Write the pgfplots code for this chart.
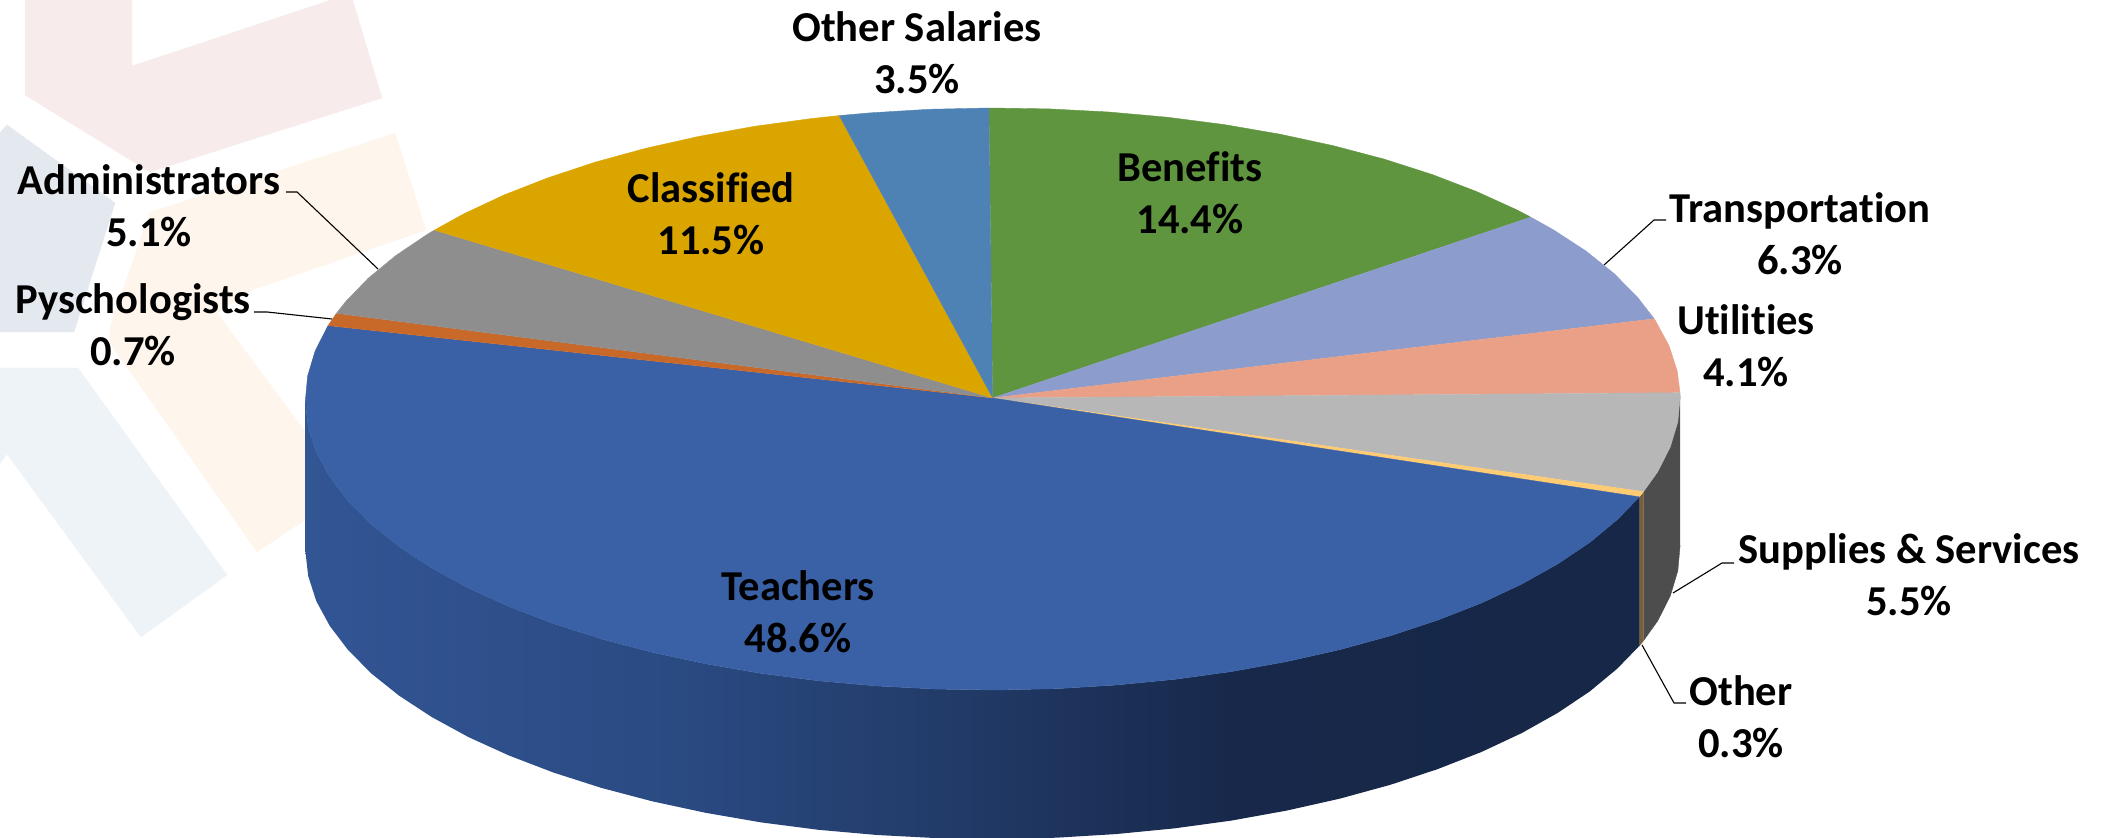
\documentclass[border=0pt]{standalone}
\usepackage{pgfplots}
\pgfplotsset{compat=1.18}
\usepackage{fontspec}
\setmainfont[Ligatures=CommonOff]{Carlito}
\definecolor{wmRed}{RGB}{247,235,235}
\definecolor{wmOrange}{RGB}{254,245,236}
\definecolor{wmGrey}{RGB}{228,233,239}
\definecolor{wmBlue}{RGB}{238,243,248}
\definecolor{cTeachers}{RGB}{58,96,165}
\definecolor{cBenefits}{RGB}{95,149,63}
\definecolor{cTransport}{RGB}{140,157,205}
\definecolor{cUtilities}{RGB}{233,160,134}
\definecolor{cSupplies}{RGB}{183,183,183}
\definecolor{cOther}{RGB}{255,203,115}
\definecolor{cPsych}{RGB}{200,105,42}
\definecolor{cAdmin}{RGB}{142,142,142}
\definecolor{cClassified}{RGB}{219,165,0}
\definecolor{cOtherSal}{RGB}{78,130,181}
\definecolor{sSupplies}{RGB}{77,77,77}
\definecolor{sOther}{RGB}{120,95,60}
\pgfdeclarehorizontalshading{sideblue}{100bp}{
  rgb(0bp)=(0.196,0.333,0.580);
  rgb(25bp)=(0.196,0.333,0.580);
  rgb(39bp)=(0.165,0.290,0.510);
  rgb(50bp)=(0.130,0.225,0.400);
  rgb(60bp)=(0.090,0.157,0.290);
  rgb(75bp)=(0.086,0.153,0.280);
  rgb(100bp)=(0.086,0.153,0.280)}
\pgfplotsset{w/.style={draw=#1,fill=#1,line width=0.2pt,no marks,line join=round,forget plot},
  lead/.style={draw=black,line width=0.55pt,no marks,forget plot}}
\newcommand{\lab}[3]{\node[align=center,font=\fontsize{21.3}{26.2}\selectfont\bfseries,inner sep=0pt] at (axis cs:#1,#2) {#3};}
\begin{document}
\begin{tikzpicture}
\useasboundingbox (0,0) rectangle (1054pt,419pt);
\begin{axis}[hide axis,scale only axis,width=1054pt,height=419pt,
  xmin=0,xmax=2108,ymin=0,ymax=838,y dir=reverse]
% watermark
\addplot[w=wmRed] coordinates {(25,-2)(132,-2)(132,66)(337,-2)(352,-2)(382,98)(150,172)(25,95)};
\addplot[w=wmOrange] coordinates {(395,133)(426,230)(252,290)(217,313)(330,465)(330,503)(257,552)(110,343)(110,327)(150,212)};
\addplot[w=wmGrey] coordinates {(-2,135)(7,125)(115,203)(74,332)(-2,332)};
\addplot[w=wmBlue] coordinates {(-2,368)(78,368)(227,575)(141,637)(7,454)(-2,466)};
% side walls
\addplot[w=sSupplies] coordinates {(1680.1,396.4)(1677.8,421.8)(1670.3,446.9)(1657.7,471.8)(1643.5,491.7)(1643.5,640.7)(1657.7,620.8)(1670.3,595.9)(1677.8,570.8)(1680.1,545.4)};
\addplot[w=sOther] coordinates {(1643.5,491.7)(1639.3,496.9)(1639.3,645.9)(1643.5,640.7)};
\addplot[shading=sideblue,draw=none,no marks,forget plot] coordinates {
(1639.3,496.9)(1617.3,519.6)(1589.9,542.3)(1557.9,563.8)(1521.7,584.1)(1481.4,603.0)(1437.4,620.2)(1390.0,635.9)(1339.6,649.7)(1286.6,661.6)(1231.3,671.6)(1174.2,679.4)(1115.6,685.1)(1056.3,688.7)(996.4,690.0)
(936.5,689.1)(877.0,686.0)(818.4,680.8)(761.1,673.4)(705.6,663.8)(652.2,652.3)(601.4,638.9)(553.6,623.6)(509.2,606.6)(468.5,588.1)(431.7,568.0)(399.3,546.8)(371.3,524.4)(348.0,500.9)(329.7,476.8)(316.3,452.1)(308.2,427.0)(305.3,401.6)
(305.3,550.6)(308.2,576.0)(316.3,601.1)(329.7,625.8)(348.0,649.9)(371.3,673.4)(399.3,695.8)(431.7,717.0)(468.5,737.1)(509.2,755.6)(553.6,772.6)(601.4,787.9)(652.2,801.3)(705.6,812.8)(761.1,822.4)(818.4,829.8)(877.0,835.0)(936.5,838.1)(996.4,839.0)(1056.3,837.7)(1115.6,834.1)(1174.2,828.4)(1231.3,820.6)(1286.6,810.6)(1339.6,798.7)(1390.0,784.9)(1437.4,769.2)(1481.4,752.0)(1521.7,733.1)(1557.9,712.8)(1589.9,691.3)(1617.3,668.6)(1639.3,645.9)};
% top wedges
\addplot[w=cBenefits] coordinates {(992.7,398)(989.0,108.0)(1048.9,108.9)(1108.4,112.0)(1167.0,117.2)(1224.3,124.6)(1279.9,134.2)(1333.2,145.7)(1384.0,159.1)(1431.8,174.4)(1476.2,191.4)(1516.9,209.9)(1530.8,217.2)};
\addplot[w=cTransport] coordinates {(992.7,398)(1530.8,217.2)(1553.7,230.0)(1586.2,251.2)(1614.1,273.6)(1637.4,297.1)(1654.2,318.8)};
\addplot[w=cUtilities] coordinates {(992.7,398)(1654.2,318.8)(1655.7,321.2)(1669.1,345.9)(1677.2,371.0)(1680.0,392.7)};
\addplot[w=cSupplies] coordinates {(992.7,398)(1680.0,392.7)(1680.1,396.4)(1677.8,421.8)(1670.3,446.9)(1657.7,471.8)(1643.5,491.7)};
\addplot[w=cOther] coordinates {(992.7,398)(1643.5,491.7)(1639.3,496.9)};
\addplot[w=cTeachers] coordinates {(992.7,398)(1639.3,496.9)(1617.3,519.6)(1589.9,542.3)(1557.9,563.8)(1521.7,584.1)(1481.4,603.0)(1437.4,620.2)(1390.0,635.9)(1339.6,649.7)(1286.6,661.6)(1231.3,671.6)(1174.2,679.4)(1115.6,685.1)(1056.3,688.7)(996.4,690.0)
(936.5,689.1)(877.0,686.0)(818.4,680.8)(761.1,673.4)(705.6,663.8)(652.2,652.3)(601.4,638.9)(553.6,623.6)(509.2,606.6)(468.5,588.1)(431.7,568.0)(399.3,546.8)(371.3,524.4)(348.0,500.9)(329.7,476.8)(316.3,452.1)(308.2,427.0)(305.3,401.6)(307.6,376.2)(315.1,351.1)(327.7,326.2)(328.1,325.6)};
\addplot[w=cPsych] coordinates {(992.7,398)(328.1,325.6)(336.5,313.3)};
\addplot[w=cAdmin] coordinates {(992.7,398)(336.5,313.3)(345.4,301.9)(368.1,278.4)(395.5,255.8)(427.5,234.2)(434.4,230.1)};
\addplot[w=cClassified] coordinates {(992.7,398)(434.4,230.1)(463.7,213.9)(504.0,195.0)(548.0,177.8)(595.4,162.1)(645.8,148.3)(698.9,136.4)(754.1,126.4)(811.2,118.6)(839.2,115.6)};
\addplot[w=cOtherSal] coordinates {(992.7,398)(839.2,115.6)(869.8,112.9)(929.1,109.3)(989.0,108.0)};
% leader lines
\addplot[lead] coordinates {(286,192)(297,192)(378,269)};
\addplot[lead] coordinates {(254,312)(267,312)(332,319)};
\addplot[lead] coordinates {(1604,265)(1654,220)(1666,220)};
\addplot[lead] coordinates {(1734,563)(1722,563)(1673,593)};
\addplot[lead] coordinates {(1686,703)(1674,703)(1642,645)};
% labels
\lab{917}{53}{Other Salaries\\3.5\%}
\lab{1190}{193}{Benefits\\14.4\%}
\lab{711}{214}{Classified\\11.5\%}
\lab{1800}{234}{Transportation\\6.3\%}
\lab{1746}{346}{Utilities\\4.1\%}
\lab{149}{206}{Administrators\\5.1\%}
\lab{133}{325}{Pyschologists\\0.7\%}
\lab{798}{612}{Teachers\\48.6\%}
\lab{1909}{575}{Supplies \& Services\\5.5\%}
\lab{1741}{717}{Other\\0.3\%}
\end{axis}
\end{tikzpicture}
\end{document}
